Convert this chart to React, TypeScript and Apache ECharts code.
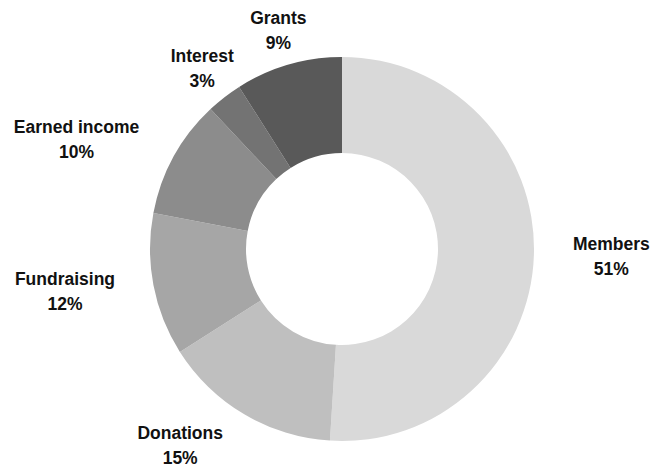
import React, { useEffect, useRef } from "react";
import * as echarts from "echarts";

const categories = ["Members", "Donations", "Fundraising", "Earned income", "Interest", "Grants"];
const values = [51, 15, 12, 10, 3, 9];
const colors = ["#d9d9d9", "#bfbfbf", "#a6a6a6", "#8c8c8c", "#737373", "#595959"];

const total = values.reduce((a, b) => a + b, 0);
const midDy = values.map((v, i) => {
  const before = values.slice(0, i).reduce((a, b) => a + b, 0);
  const theta = ((before + v / 2) / total) * Math.PI * 2;
  return -Math.cos(theta);
});

export default function App() {
  const ref = useRef<HTMLDivElement>(null);
  useEffect(() => {
    if (!ref.current) return;
    const chart = echarts.init(ref.current, undefined, { renderer: "svg" });
    chart.setOption({
      animation: false,
      backgroundColor: "#ffffff",
      series: [
        {
          type: "pie",
          center: [342, 249],
          radius: [96, 192],
          startAngle: 90,
          clockwise: true,
          avoidLabelOverlap: false,
          data: categories.map((name, i) => ({
            name,
            value: values[i],
            itemStyle: { color: colors[i] },
          })),
          label: {
            show: true,
            position: "outside",
            formatter: "{b}\n{c}%",
            fontFamily: "Liberation Sans",
            fontWeight: "bold",
            fontSize: 17.5,
            lineHeight: 25,
            color: "#111111",
            distanceToLabelLine: 3,
          },
          labelLine: { show: false, length: 36, length2: 0 },
          labelLayout: (p: any) => {
            const r = p.labelRect;
            const i = p.dataIndex;
            const leftSide = p.align === "right";
            let cx = r.x + r.width / 2;
            if (midDy[i] < -0.7) {
              cx = leftSide ? r.x + r.width + 3 : r.x - 3;
            }
            return {
              x: cx,
              y: r.y + r.height / 2,
              align: "center",
              verticalAlign: "middle",
            };
          },
          emphasis: { disabled: true },
        },
      ],
    });
    return () => chart.dispose();
  }, []);
  return (
    <div
      ref={ref}
      style={{ position: "fixed", left: 0, top: 0, width: 653, height: 470 }}
    />
  );
}
